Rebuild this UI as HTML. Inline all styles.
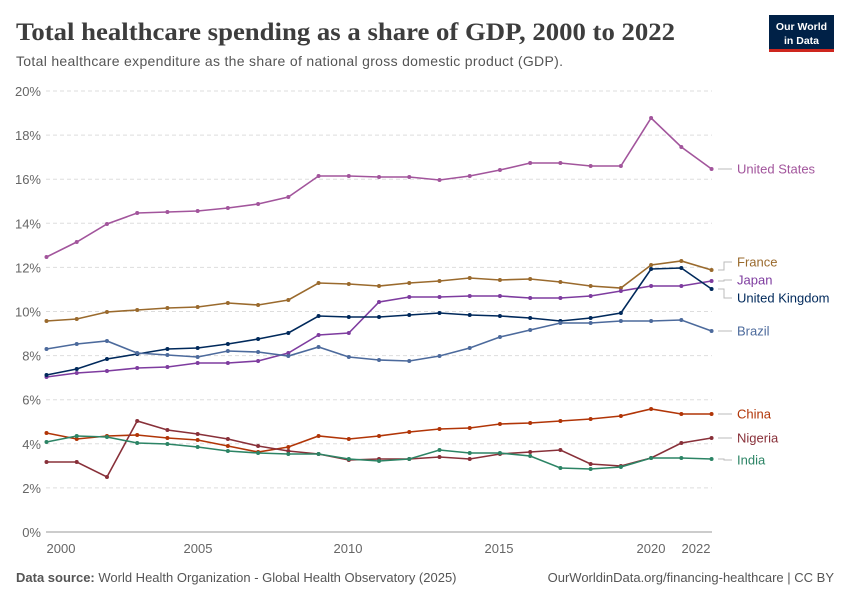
<!DOCTYPE html><html><head><meta charset="utf-8"><style>
body{margin:0;background:#fff;font-family:"Liberation Sans",sans-serif}
</style></head><body>
<svg width="850" height="600" xmlns="http://www.w3.org/2000/svg" font-family="Liberation Sans, sans-serif">
<text x="16" y="40" font-family="Liberation Serif, serif" font-size="25.5" font-weight="bold" fill="#3d3d3d" textLength="659" lengthAdjust="spacingAndGlyphs">Total healthcare spending as a share of GDP, 2000 to 2022</text>
<text x="16" y="66" font-size="14" fill="#555" textLength="547" lengthAdjust="spacing">Total healthcare expenditure as the share of national gross domestic product (GDP).</text>
<rect x="769" y="15" width="65" height="36" fill="#002147"/><rect x="769" y="49" width="65" height="3" fill="#ce261e"/>
<text x="801.5" y="30" font-size="10.5" fill="#fff" text-anchor="middle" font-weight="bold">Our World</text>
<text x="801.5" y="44" font-size="10.5" fill="#fff" text-anchor="middle" font-weight="bold">in Data</text>
<g id="grid" stroke="#ddd" stroke-dasharray="4,3"></g>
<g id="yl" font-size="13" fill="#666" text-anchor="end"></g>
<line x1="46" y1="532" x2="712" y2="532" stroke="#999"/>
<g font-size="13" fill="#666" text-anchor="middle">
<text x="61" y="553">2000</text><text x="198" y="553">2005</text><text x="348" y="553">2010</text><text x="499" y="553">2015</text><text x="651" y="553">2020</text><text x="696" y="553">2022</text></g>
<g id="series"></g>
<text x="16" y="582" font-size="13" fill="#555"><tspan font-weight="bold">Data source:</tspan> World Health Organization - Global Health Observatory (2025)</text>
<text x="834" y="582" font-size="13" fill="#555" text-anchor="end">OurWorldinData.org/financing-healthcare | CC BY</text>
</svg>
<script>
var ns="http://www.w3.org/2000/svg";
function el(t,a,p,txt){var e=document.createElementNS(ns,t);for(var k in a)e.setAttribute(k,a[k]);if(txt)e.textContent=txt;p.appendChild(e);return e;}
var g=document.getElementById('grid'),yl=document.getElementById('yl');
for(var i=0;i<=10;i++){var y=532-i*44.1;if(i>0)el('line',{x1:46,y1:y,x2:712,y2:y},g);el('text',{x:41,y:y+5},yl,(i*2)+'%');}
var S=[
["United States","#a2559c",169,[257,242,224,213,212,211,208,204,197,176,176,177,177,180,176,170,163,163,166,166,118,147,169]],
["France","#9a6a2d",262,[321,319,312,310,308,307,303,305,300,283,284,286,283,281,278,280,279,282,286,288,265,261,270]],
["Japan","#7e3c9f",280,[377,373,371,368,367,363,363,361,353,335,333,302,297,297,296,296,298,298,296,291,286,286,281]],
["United Kingdom","#00295b",298,[375,369,359,354,349,348,344,339,333,316,317,317,315,313,315,316,318,321,318,313,269,268,289]],
["Brazil","#4c6a9c",331,[349,344,341,353,355,357,351,352,356,347,357,360,361,356,348,337,330,323,323,321,321,320,331]],
["China","#b13507",414,[433,439,436,435,438,440,446,452,447,436,439,436,432,429,428,424,423,421,419,416,409,414,414]],
["Nigeria","#883039",438,[462,462,477,421,430,434,439,446,451,454,460,459,459,457,459,454,452,450,464,466,458,443,438]],
["India","#2c8465",460,[442,436,437,443,444,447,451,453,454,454,459,461,459,450,453,453,456,468,469,467,458,458,459]]];
var sg=document.getElementById('series');
S.forEach(function(s){var pts=s[3].map(function(y,i){return [46.5+i*30.23,y];});
el('polyline',{points:pts.map(function(p){return p.join(',')}).join(' '),fill:'none',stroke:s[1],'stroke-width':1.6},sg);
pts.forEach(function(p){el('circle',{cx:p[0],cy:p[1],r:2,fill:s[1]},sg);});
var ly=s[3][22],lx=718;
el('path',{d:'M'+lx+','+ly+' H724 V'+s[2]+' H732',fill:'none',stroke:'#bbb'},sg);
el('text',{x:737,y:s[2]+4.5,'font-size':13,fill:s[1]},sg,s[0]);});
</script>
</body></html>
